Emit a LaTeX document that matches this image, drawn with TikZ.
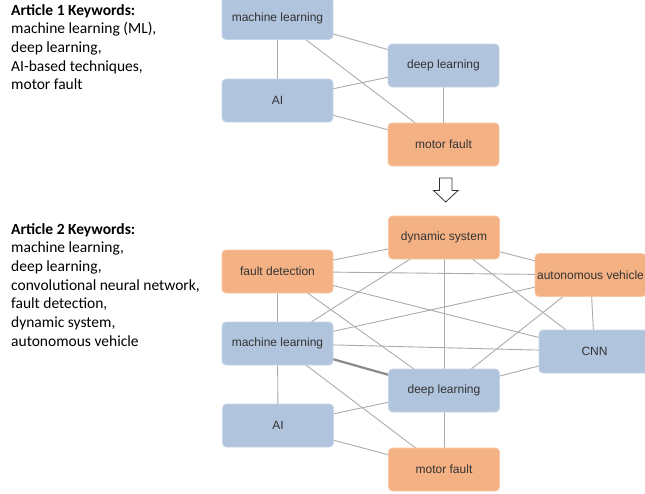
\documentclass[tikz,border=0pt]{standalone}
\usepackage{fontspec}
\setmainfont{Carlito}
\newfontfamily\nodefont{Liberation Sans}
\usetikzlibrary{backgrounds}
\definecolor{bluefill}{HTML}{B0C4DE}
\definecolor{orangefill}{HTML}{F4B183}
\definecolor{edgegray}{HTML}{ABABAB}
\definecolor{thickgray}{HTML}{8A8A8A}
\definecolor{labeltext}{HTML}{333333}
\begin{document}
\begin{tikzpicture}[x=1pt,y=-1pt,
 kw/.style={rectangle, rounded corners=4pt, minimum width=111pt, minimum height=43pt, inner sep=0pt, font=\nodefont\fontsize{12}{14}\selectfont, text=labeltext},
 bluebox/.style={kw, fill=bluefill, draw=bluefill!70!white, line width=0.8pt},
 orangebox/.style={kw, fill=orangefill, draw=orangefill!70!white, line width=0.8pt},
 link/.style={draw=edgegray, line width=0.9pt},
 strong/.style={draw=thickgray, line width=2.2pt},
 kwlist/.style={anchor=north west, inner sep=0pt, align=left, font=\fontsize{15.5}{18.7}\selectfont}]
\useasboundingbox (0,0) rectangle (645,493);

% keyword lists
\node[kwlist] (art1) at (11,4) {\textbf{Article 1 Keywords:}\\machine learning (ML),\\deep learning,\\AI-based techniques,\\motor fault};
\node[kwlist] (art2) at (11,223) {\textbf{Article 2 Keywords:}\\machine learning,\\deep learning,\\convolutional neural network,\\fault detection,\\dynamic system,\\autonomous vehicle};

% top graph
\node[bluebox] (ml1) at (277.5,18) {machine learning};
\node[bluebox] (dl1) at (443.5,65.5) {deep learning};
\node[bluebox] (ai1) at (277.5,100.5) {AI};
\node[orangebox] (mf1) at (443.5,144.5) {motor fault};

% arrow
\draw[draw=black!80, fill=white, line width=0.8pt, line join=miter]
 (439.5,178) -- (452,178) -- (452,190.5) -- (458,190.5) -- (445.75,202) -- (433.5,190.5) -- (439.5,190.5) -- cycle;

% bottom graph
\node[orangebox] (ds2) at (444,237.5) {dynamic system};
\node[orangebox] (fd2) at (277.5,271.5) {fault detection};
\node[orangebox] (av2) at (590.5,275) {autonomous vehicle};
\node[bluebox] (ml2) at (277.5,343.5) {machine learning};
\node[bluebox] (cnn2) at (594.5,351.5) {CNN};
\node[bluebox] (dl2) at (444,390.5) {deep learning};
\node[bluebox] (ai2) at (278,425.5) {AI};
\node[orangebox] (mf2) at (444,469.5) {motor fault};

\begin{pgfonlayer}{background}
\draw[link] (ml1.center) -- (ai1.center);
\draw[link] (ml1.center) -- (dl1.center);
\draw[link] (ml1.center) -- (mf1.center);
\draw[link] (ai1.center) -- (dl1.center);
\draw[link] (ai1.center) -- (mf1.center);
\draw[link] (dl1.center) -- (mf1.center);

\draw[link] (ds2.center) -- (fd2.center);
\draw[link] (ds2.center) -- (av2.center);
\draw[link] (ds2.center) -- (ml2.center);
\draw[link] (ds2.center) -- (dl2.center);
\draw[link] (ds2.center) -- (cnn2.center);
\draw[link] (fd2.center) -- (av2.center);
\draw[link] (fd2.center) -- (cnn2.center);
\draw[link] (fd2.center) -- (ml2.center);
\draw[link] (fd2.center) -- (dl2.center);
\draw[link] (av2.center) -- (ml2.center);
\draw[link] (av2.center) -- (dl2.center);
\draw[link] (av2.center) -- (cnn2.center);
\draw[link] (ml2.center) -- (cnn2.center);
\draw[strong] (ml2.center) -- (dl2.center);
\draw[link] (ml2.center) -- (ai2.center);
\draw[link] (ml2.center) -- (mf2.center);
\draw[link] (cnn2.center) -- (dl2.center);
\draw[link] (dl2.center) -- (ai2.center);
\draw[link] (dl2.center) -- (mf2.center);
\draw[link] (ai2.center) -- (mf2.center);
\end{pgfonlayer}
\end{tikzpicture}
\end{document}
